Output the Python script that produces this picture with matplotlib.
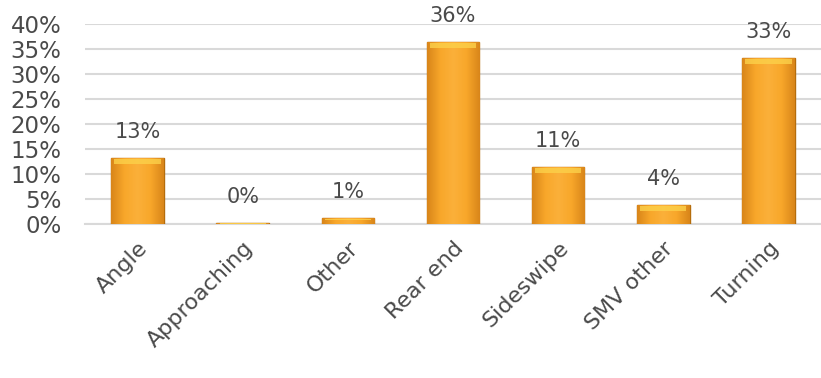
import numpy as np
import matplotlib
matplotlib.use("Agg")
import matplotlib.pyplot as plt
from matplotlib.colors import LinearSegmentedColormap

categories = ["Angle", "Approaching", "Other", "Rear end", "Sideswipe", "SMV other", "Turning"]
values = [13.2, 0.2, 1.2, 36.4, 11.4, 3.8, 33.2]
labels = ["13%", "0%", "1%", "36%", "11%", "4%", "33%"]
yticks = [0, 5, 10, 15, 20, 25, 30, 35, 40]

text_color = "#4a4a4a"
plt.rcParams['font.family'] = ['DejaVu Sans']

fig = plt.figure(figsize=(8.21, 3.78), dpi=100)
ax = fig.add_axes([0.1035, 0.407, 0.8965, 0.5295])

x = np.arange(len(categories))
bars = ax.bar(x, values, width=0.5, color="#F6A323", edgecolor="#B56D0C", linewidth=1.0, zorder=3)

# bevel look: horizontal gradient clipped to each bar
grad_cmap = LinearSegmentedColormap.from_list("bev", ["#D9861A", "#F8A72A", "#FBB03A", "#F8A72A", "#D9861A"])
grad = np.linspace(0, 1, 64).reshape(1, -1)
for b in bars:
    x0, y0 = b.get_x(), b.get_y()
    w, h = b.get_width(), b.get_height()
    im = ax.imshow(grad, cmap=grad_cmap, aspect="auto", extent=[x0, x0 + w, y0, y0 + h], zorder=3.5)
    im.set_clip_path(b)
    # yellow highlight at the top
    hl = min(1.2, h * 0.3)
    ax.fill_between([x0 + w * 0.06, x0 + w * 0.94], y0 + h - hl, y0 + h - 0.15,
                    color="#FCD14A", alpha=0.8, linewidth=0, zorder=3.6)

for xi, v, lab in zip(x, values, labels):
    ax.text(xi, v + 3.3, lab, ha="center", va="bottom", fontsize=15, color=text_color, clip_on=False)

ax.set_xlim(-0.5, len(categories) - 0.5)
ax.set_ylim(0, 40)
ax.set_yticks(yticks)
ax.set_yticklabels([f"{t}%" for t in yticks], fontsize=16.5, color=text_color)
ax.yaxis.grid(True, color="#D9D9D9", linewidth=1.5, zorder=0)
ax.set_axisbelow(True)
for s in ["top", "right", "left"]:
    ax.spines[s].set_visible(False)
ax.spines["bottom"].set_color("#D9D9D9")
ax.spines["bottom"].set_linewidth(1.5)
ax.tick_params(axis="y", length=0, pad=17)

ax.set_xticks(x)
ax.set_xticklabels(categories, rotation=45, ha="right", rotation_mode="anchor",
                   fontsize=16, color=text_color)
ax.tick_params(axis="x", length=0, pad=10)

fig.savefig("out.png", dpi=100)
